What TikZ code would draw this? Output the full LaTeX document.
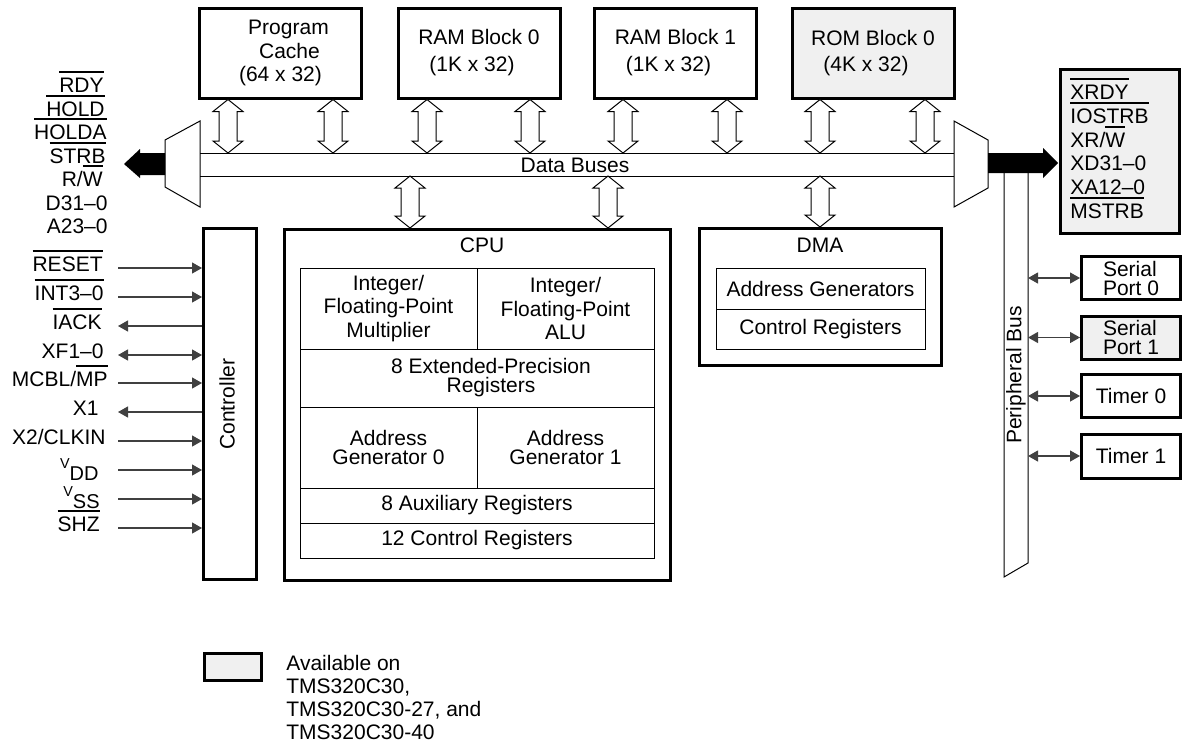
\documentclass[tikz,border=0pt]{standalone}
\usepackage{fontspec}
\setmainfont{Liberation Sans}
\usetikzlibrary{arrows.meta,calc}
\newsavebox\ovbox
\newcommand\ovl[1]{\leavevmode\sbox\ovbox{#1}\rlap{\rule[\dimexpr\fontcharht\font`X+2.3pt\relax]{\wd\ovbox}{1pt}}\usebox\ovbox}
\newcommand\vsub[2]{{\raisebox{6pt}{\fontsize{7.2}{8}\selectfont #1}\fontsize{10}{11}\selectfont #2}}
\newcommand\hdarr[2]{\draw[hollow] (#1) -- ++(-15,12) -- ++(6,0) -- ($(#2)+(-9,-12)$) -- ++(-6,0) -- (#2) -- ++(15,-12) -- ++(-6,0) -- ($(#1)+(9,12)$) -- ++(6,0) -- cycle;}
\newcommand\sigline[5]{%
  \coordinate (#1) at (118,#2);
  \node[lbl] (#1t) at (#3) {#4};
  \draw[#5] (#1) -- (#1 -| ctl.west);}
\begin{document}
\begin{tikzpicture}[x=0.5pt,y=-0.5pt,
  every node/.style={font=\fontsize{10.5}{11.75}\selectfont, inner sep=0pt},
  heavy/.style={draw, line width=1.5pt},
  blk/.style={heavy, minimum width=81pt, minimum height=45pt, align=center},
  avail/.style={fill=black!6},
  cell/.style={draw, line width=0.5pt, align=center},
  thinl/.style={line width=0.5pt},
  hollow/.style={line width=0.5pt, fill=white},
  sigr/.style={line width=0.6pt, draw=black!75, -{Triangle[length=5pt,width=5.5pt]}},
  sigl/.style={line width=0.6pt, draw=black!75, {Triangle[length=5pt,width=5.5pt]}-},
  sigb/.style={line width=0.6pt, draw=black!75, {Triangle[length=5pt,width=5.5pt]}-{Triangle[length=5pt,width=5.5pt]}},
  lbl/.style={anchor=base east},
  lblw/.style={anchor=base west},
]
\useasboundingbox (0,0) rectangle (1182,745);

% ---- top memory blocks
\node[blk] (pc) at (280.5,53) {\hspace*{8pt}Program\\\hspace*{9pt}Cache\\(64 x 32)};
\node[blk, font=\fontsize{10.5}{13.5}\selectfont] (ram0) at (479,53) {RAM Block 0\\(1K x 32)\hspace*{7pt}};
\node[blk, font=\fontsize{10.5}{13.5}\selectfont] (ram1) at (675.5,53) {RAM Block 1\\(1K x 32)\hspace*{7pt}};
\node[blk, avail, font=\fontsize{10.5}{13}\selectfont] (rom) at (873,53) {ROM Block 0\\(4K x 32)\hspace*{7pt}};

% ---- data buses and multiplexers
\coordinate (busT) at (200,153);
\coordinate (busB) at (200,176);
\coordinate (busTR) at (954,153);
\coordinate (busBR) at (954,176);
\draw[thinl] (busT) -- (busTR);
\draw[thinl] (busB) -- (busBR);
\node (dbus) at (575,165.5) {Data Buses};
\draw[thinl] (165,140) -- (200,121) -- (200,207) -- (165,187) -- cycle;
\draw[thinl] (954,121) -- (988,140) -- (988,188) -- (954,207) -- cycle;
\fill (165,153) -- (140,153) -- (140,149) -- (124,164) -- (140,178) -- (140,175) -- (165,175) -- cycle;
\fill (988,153) -- (1043,153) -- (1043,148) -- (1058,163) -- (1043,178) -- (1043,173) -- (988,173) -- cycle;

% ---- left bus signal labels
\node[lbl] (bRDY) at (104,92.5) {\ovl{RDY}};
\node[lbl] (bHOLD) at (105,116) {\ovl{HOLD}};
\node[lbl] (bHOLDA) at (107,139.5) {\ovl{HOLDA}};
\node[lbl] (bSTRB) at (106,163) {\ovl{STRB}};
\node[lbl] (bRW) at (103,186.5) {R/\ovl{W}};
\node[lbl] (bD) at (108,210) {D31–0};
\node[lbl] (bA) at (108,233.5) {A23–0};

% ---- external bus box
\node[heavy, avail, minimum width=59.5pt, minimum height=82pt] (ext) at (1120,151.5) {};
\node[lblw] (eXRDY) at (1070,99.5) {\ovl{XRDY}};
\node[lblw] (eIOS) at (1070,123.3) {\ovl{IOSTRB}};
\node[lblw] (eXRW) at (1070,147) {XR/\ovl{W}};
\node[lblw] (eXD) at (1070,170.8) {XD31–0};
\node[lblw] (eXA) at (1070,194.6) {XA12–0};
\node[lblw] (eMS) at (1070,218.4) {\ovl{MSTRB}};

% ---- controller
\node[heavy, minimum width=26.5pt, minimum height=175.5pt] (ctl) at (230,404) {};
\node[rotate=90] (ctlt) at (227,404) {Controller};
\sigline{s1}{268}{103,271.5}{\ovl{RESET}}{sigr}
\sigline{s2}{297}{104,300.5}{\ovl{INT3–0}}{sigr}
\sigline{s3}{326}{102,329.5}{\ovl{IACK}}{sigl}
\sigline{s4}{355}{104,358.5}{XF1–0}{sigb}
\sigline{s5}{383}{108,386.5}{MCBL/\ovl{MP}}{sigr}
\sigline{s6}{412}{99,415.5}{X1}{sigl}
\sigline{s7}{441}{106,444.5}{X2/CLKIN}{sigr}
\sigline{s8}{470}{99,480}{\vsub{V}{DD}}{sigr}
\sigline{s9}{499}{100,508}{\vsub{V}{SS}}{sigr}
\sigline{s10}{528}{100,531.5}{\ovl{SHZ}}{sigr}

% ---- CPU
\node[heavy, minimum width=193pt, minimum height=175.5pt] (cpu) at (477.5,405) {};
\node (cput) at (482,245) {CPU};
\node[cell, minimum width=88.5pt, minimum height=40.5pt] (mul) at (388.5,308.5) {Integer/\\Floating-Point\\Multiplier};
\node[cell, minimum width=88.5pt, minimum height=40.5pt] (alu) at (565.5,308.5) {Integer/\\Floating-Point\\ALU};
\node[cell, minimum width=177pt, minimum height=29pt, font=\fontsize{10.5}{9.5}\selectfont] (epr) at (477,378) {\hspace*{14pt}8 Extended-Precision\\\hspace*{14pt}Registers};
\node[cell, minimum width=88.5pt, minimum height=40.5pt, font=\fontsize{10.5}{9.5}\selectfont] (ag0) at (388.5,447.5) {Address\\Generator 0};
\node[cell, minimum width=88.5pt, minimum height=40.5pt, font=\fontsize{10.5}{9.5}\selectfont] (ag1) at (565.5,447.5) {Address\\Generator 1};
\node[cell, minimum width=177pt, minimum height=17.5pt] (aux) at (477,505.5) {8 Auxiliary Registers};
\node[cell, minimum width=177pt, minimum height=17.5pt] (creg) at (477,540.5) {12 Control Registers};

% ---- DMA
\node[heavy, minimum width=121pt, minimum height=68.5pt] (dma) at (820.5,297) {};
\node (dmat) at (820,245) {DMA};
\node[cell, minimum width=104.5pt, minimum height=20.5pt] (dag) at (820.5,288.5) {Address Generators};
\node[cell, minimum width=104.5pt, minimum height=20pt] (dcr) at (820.5,329) {Control Registers};

% ---- hollow bus arrows
\foreach \k/\xx/\bx in {1/228/pc, 2/333/pc, 3/427/ram0, 4/530/ram0, 5/623/ram1, 6/727/ram1, 7/820/rom, 8/925/rom} {
  \coordinate (x\k) at (\xx,0);
  \coordinate (t\k) at (\bx.south -| x\k);
  \coordinate (b\k) at (busT -| x\k);
  \hdarr{t\k}{b\k}
}
\foreach \k/\xx/\bx in {9/410/cpu, 10/608/cpu, 11/820/dma} {
  \coordinate (x\k) at (\xx,0);
  \coordinate (t\k) at (busB -| x\k);
  \coordinate (b\k) at (\bx.north -| x\k);
  \hdarr{t\k}{b\k}
}

% ---- peripheral bus
\coordinate (pbLt) at (1004,173);
\coordinate (pbRt) at (1028,173);
\coordinate (pbLb) at (1004,577);
\coordinate (pbRb) at (1028,563);
\draw[thinl] (pbLt) -- (pbLb) -- (pbRb) -- (pbRt);
\node[rotate=90] (pbt) at (1016,375) {Peripheral Bus};

\node[heavy, minimum width=49.5pt, minimum height=21.5pt, align=left, font=\fontsize{10.5}{9.5}\selectfont] (sp0) at (1131,278) {Serial\\Port 0};
\node[heavy, avail, minimum width=49.5pt, minimum height=21.5pt, align=left, font=\fontsize{10.5}{9.5}\selectfont] (sp1) at (1131,337.5) {Serial\\Port 1};
\node[heavy, minimum width=49.5pt, minimum height=21.5pt] (tm0) at (1131,396) {Timer 0};
\node[heavy, minimum width=49.5pt, minimum height=22pt] (tm1) at (1131,456) {Timer 1};
\foreach \b in {sp0, sp1, tm0, tm1} {
  \draw[sigb] (pbRt |- \b.west) -- (\b.west);
}

% ---- legend
\node[heavy, avail, minimum width=28.5pt, minimum height=13.5pt] (leg) at (233,667) {};
\node[anchor=north west, align=left, font=\fontsize{10.5}{11.5}\selectfont] (legt) at (286,655) {Available on\\TMS320C30,\\TMS320C30-27, and\\TMS320C30-40};
\end{tikzpicture}
\end{document}
